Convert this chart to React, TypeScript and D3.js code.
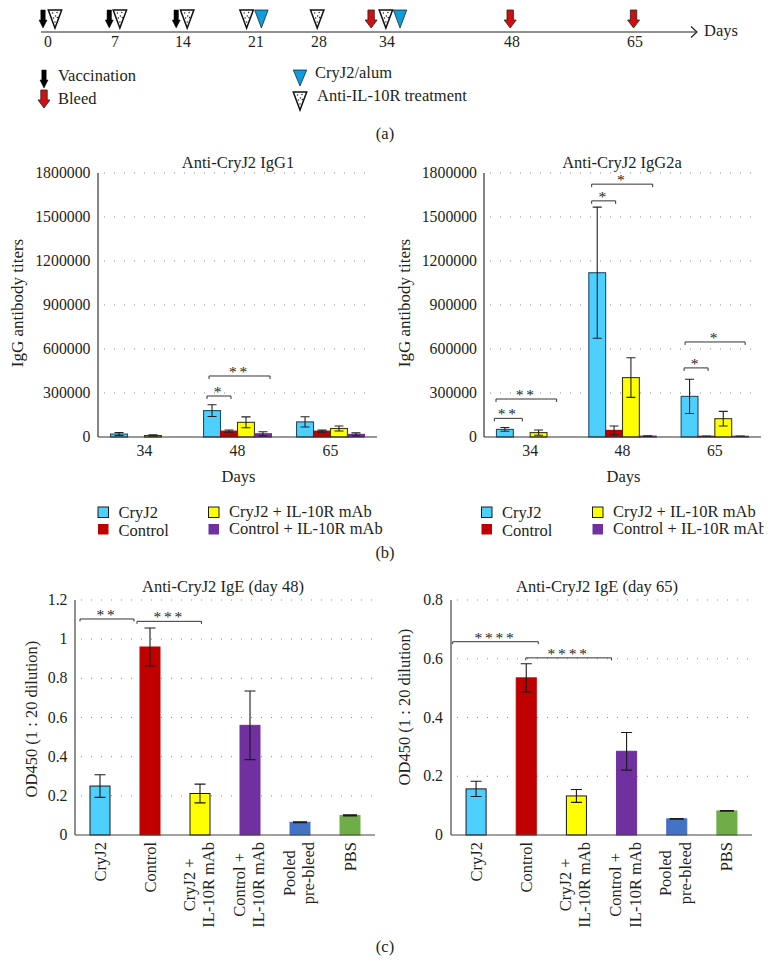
import React from "react";
import * as d3 from "d3";

const FONT = "'Liberation Serif', serif";
const TXT = "#231f20";

// ---------- schematic (a)
const timelineDays = [0, 7, 14, 21, 28, 34, 48, 65];
const vaccinationDays = [-0.52, 6.4, 13.3];
const bleedDays = [32.6, 47.8, 64.8];
const treatmentDays = [0.73, 7.5, 14.4, 20.1, 27.8, 33.9];
const alumDays = [21.6, 35.46];

// ---------- titers (b)
const titerGroups = ["34", "48", "65"];
const titerSeries = ["CryJ2", "Control", "CryJ2 + IL-10R mAb", "Control + IL-10R mAb"];
const seriesColors = ["#4dcfff", "#c00000", "#ffff00", "#7030a0"];
const seriesStrokes = ["#1d4f63", "#a80000", "#3b3b10", "#6a2c98"];
const titerTicks = [0, 300000, 600000, 900000, 1200000, 1500000, 1800000];

const igg1Values = [
  [20000, 0, 10000, 0],
  [180000, 40000, 100000, 22000],
  [103000, 40000, 58000, 18000],
];
const igg1Errors = [
  [10000, 0, 5000, 0],
  [40000, 8000, 37000, 14000],
  [35000, 7000, 17000, 10000],
];
const igg2aValues = [
  [52000, 0, 30000, 0],
  [1120000, 45000, 405000, 6000],
  [277000, 5000, 125000, 5000],
];
const igg2aErrors = [
  [13000, 0, 18000, 0],
  [447000, 30000, 135000, 2000],
  [117000, 2000, 50000, 2000],
];
// brackets: [from, to] in group units, height in titer units, stars
const igg1Brackets = [
  { from: 1.172, to: 1.43, at: 279500, stars: "*" },
  { from: 1.194, to: 1.85, at: 416000, stars: "**" },
];
const igg2aBrackets = [
  { from: 0.112, to: 0.415, at: 127000, stars: "**" },
  { from: 0.13, to: 0.787, at: 259000, stars: "**" },
  { from: 1.166, to: 1.426, at: 1610000, stars: "*" },
  { from: 1.166, to: 1.827, at: 1724000, stars: "*" },
  { from: 2.167, to: 2.427, at: 471000, stars: "*" },
  { from: 2.178, to: 2.828, at: 648000, stars: "*" },
];

// ---------- IgE (c)
const igeCategories = [["CryJ2"], ["Control"], ["CryJ2 +", "IL-10R mAb"], ["Control +", "IL-10R mAb"], ["Pooled", "pre-bleed"], ["PBS"]];
const igeColors = ["#4dcfff", "#c00000", "#ffff00", "#7030a0", "#4472c4", "#70ad47"];
const igeStrokes = ["#1a1a1a", "#c00000", "#1a1a1a", "#7030a0", "#4472c4", "#70ad47"];
const ige48Values = [0.25, 0.96, 0.212, 0.56, 0.065, 0.1];
const ige48Errors = [0.058, 0.097, 0.048, 0.175, 0.002, 0.003];
const ige48Ticks = [0, 0.2, 0.4, 0.6, 0.8, 1, 1.2];
const ige65Values = [0.157, 0.535, 0.133, 0.285, 0.055, 0.082];
const ige65Errors = [0.026, 0.048, 0.022, 0.064, 0.001, 0.001];
const ige65Ticks = [0, 0.2, 0.4, 0.6, 0.8];
const ige48Brackets = [
  { from: 0.1, to: 1.18, at: 1.103, stars: "**" },
  { from: 1.24, to: 2.53, at: 1.091, stars: "***" },
];
const ige65Brackets = [
  { from: 0.034, to: 1.74, at: 0.658, stars: "****" },
  { from: 1.49, to: 3.2, at: 0.603, stars: "****" },
];

const TEXT_SIZE = 16.5;
const TICK_SIZE = 15.8;

const T = (p: any) => <text fontFamily={FONT} fill={TXT} {...p} />;

function textWidth(s: string, size: number) {
  const ctx = document.createElement("canvas").getContext("2d")!;
  ctx.font = `${size}px 'Liberation Serif'`;
  return ctx.measureText(s).width;
}

function Arrow({ x, top, fill, wide }: { x: number; top: number; fill: string; wide?: boolean }) {
  const s = wide ? 3.2 : 2.2;
  const h = wide ? 6 : 4;
  const y1 = top + 10;
  const y2 = top + 18;
  const d = `M${x - s},${top}H${x + s}V${y1}H${x + h}L${x},${y2}L${x - h},${y1}H${x - s}Z`;
  return <path d={d} fill={fill} stroke={wide ? "#222" : "#000"} strokeWidth={wide ? 0.8 : 0.5} strokeLinejoin="miter" />;
}

function Tri({ x, top, fill, h = 18, hw = 6.7 }: { x: number; top: number; fill: string; h?: number; hw?: number }) {
  return <path d={`M${x - hw},${top}H${x + hw}L${x},${top + h}Z`} fill={fill} stroke="#111" strokeWidth={fill === "#fff" ? 1.5 : 0.7} />;
}

const dotOffsets = [[-2.5, 3], [2, 2.5], [0.5, 6], [-1.5, 8], [2.4, 7.5], [0, 12]];
function HatchTri({ x, top }: { x: number; top: number }) {
  return (
    <g>
      <Tri x={x} top={top} fill="#fff" />
      {dotOffsets.map(([dx, dy], i) => <circle key={i} cx={x + dx} cy={top + dy} r={0.75} fill="#222" />)}
    </g>
  );
}

function Schematic() {
  const x = d3.scaleLinear().domain(timelineDays).range([48, 115, 183, 256, 319, 387, 512, 635]);
  const lineY = 32;
  return (
    <g>
      <line x1={41} x2={696} y1={lineY} y2={lineY} stroke="#222" strokeWidth={1.2} />
      <path d={`M691,${lineY - 5.5}L697,${lineY}L691,${lineY + 5.5}`} fill="none" stroke="#222" strokeWidth={1.2} />
      <T x={704} y={36} fontSize={TEXT_SIZE}>Days</T>
      {timelineDays.map((d) => <T key={d} x={x(d)} y={47} fontSize={TICK_SIZE} textAnchor="middle">{d}</T>)}
      {vaccinationDays.map((d) => <Arrow key={d} x={x(d)} top={10} fill="#000" />)}
      {bleedDays.map((d) => <Arrow key={d} x={x(d)} top={10} fill="#d01010" wide />)}
      {treatmentDays.map((d) => <HatchTri key={d} x={x(d)} top={10} />)}
      {alumDays.map((d) => <Tri key={d} x={x(d)} top={10} fill="#0d9edb" />)}

      <Arrow x={44} top={70} fill="#000" />
      <T x={58} y={81} fontSize={TEXT_SIZE}>Vaccination</T>
      <Arrow x={44} top={90} fill="#d01010" wide />
      <T x={58} y={104} fontSize={TEXT_SIZE}>Bleed</T>
      <Tri x={300} top={70} fill="#0d9edb" h={16} />
      <T x={315} y={78} fontSize={TEXT_SIZE}>CryJ2/alum</T>
      <HatchTri x={300} top={92} />
      <T x={317} y={101} fontSize={TEXT_SIZE}>Anti-IL-10R treatment</T>
      <T x={385} y={139} fontSize={TEXT_SIZE} textAnchor="middle">(a)</T>
    </g>
  );
}

function Grid({ y, ticks, x0, x1 }: { y: any; ticks: number[]; x0: number; x1: number }) {
  return (
    <g>
      {ticks.filter((t) => t !== 0).map((t) => (
        <line key={t} x1={x0 + 6} x2={x1} y1={y(t)} y2={y(t)} stroke="#8a8a8a" strokeWidth={1} strokeDasharray="1 9" />
      ))}
    </g>
  );
}

function Brackets({ items, x, y, tip = 3 }: { items: any[]; x: any; y: any; tip?: number }) {
  return (
    <g>
      {items.map((b, i) => {
        const px = y(b.at);
        const mid = (x(b.from) + x(b.to)) / 2;
        return (
          <g key={i}>
            <path d={`M${x(b.from)},${px + tip}V${px}H${x(b.to)}V${px + tip}`} fill="none" stroke="#333" strokeWidth={1} />
            <text x={mid} y={px + 1} fontFamily={FONT} fontSize={15.5} fill="#1a1a1a" opacity={0.99} textAnchor="middle" letterSpacing={2.8}>{b.stars}</text>
          </g>
        );
      })}
    </g>
  );
}

function YTicks({ ticks, y, x, fmt }: { ticks: number[]; y: any; x: number; fmt?: (n: number) => string }) {
  return (
    <g>
      {ticks.map((t) => <T key={t} x={x} y={y(t) + 5} fontSize={TICK_SIZE} textAnchor="end">{fmt ? fmt(t) : t}</T>)}
    </g>
  );
}

function TiterPanel({ x0, x1, title, titleX, yLabelX, tickX, values, errors, brackets, legendX, legendX2, clip }: any) {
  const y = d3.scaleLinear().domain([0, 1800000]).range([437, 173]);
  const band = d3.scaleBand().domain(titerGroups).range([x0, x1]);
  const unit = d3.scaleLinear().domain([0, 3]).range([x0, x1]);
  const barW = band.bandwidth() * 0.1825;
  const inner = d3.scaleBand().domain(titerSeries).range([0, barW * 4]);
  const center = (g: string) => band(g)! + band.bandwidth() / 2;
  return (
    <g>
      <T x={titleX} y={168} fontSize={TEXT_SIZE} textAnchor="middle">{title}</T>
      <Grid y={y} ticks={titerTicks} x0={x0} x1={x1 - 4} />
      <YTicks ticks={titerTicks} y={y} x={tickX} />
      <T transform={`translate(${yLabelX},303) rotate(-90)`} fontSize={TEXT_SIZE + 0.5} textAnchor="middle">IgG antibody titers</T>
      {titerGroups.map((g, gi) => {
        const left = center(g) - barW * 2;
        return (
          <g key={g}>
            {titerSeries.map((s, si) => {
              const v = values[gi][si];
              if (v === 0) return null;
              const bx = left + inner(s)!;
              const cx = bx + barW / 2;
              const e = errors[gi][si];
              return (
                <g key={s}>
                  <rect x={bx} y={y(v)} width={barW} height={y(0) - y(v)} fill={seriesColors[si]} stroke={seriesStrokes[si]} strokeWidth={1.1} />
                  <path d={`M${cx},${y(v + e)}V${y(Math.max(v - e, 0))}M${cx - 4.5},${y(v + e)}H${cx + 4.5}M${cx - 4.5},${y(Math.max(v - e, 0))}H${cx + 4.5}`} fill="none" stroke="#222" strokeWidth={1.1} />
                </g>
              );
            })}
            <T x={center(g)} y={455.5} fontSize={TICK_SIZE} textAnchor="middle">{g}</T>
          </g>
        );
      })}
      <line x1={x0} x2={x0} y1={173} y2={437} stroke="#333" strokeWidth={1.2} />
      <line x1={x0} x2={x1} y1={437} y2={437} stroke="#333" strokeWidth={1.2} />
      <Brackets items={brackets} x={unit} y={y} />
      <T x={(x0 + x1) / 2 + 1} y={481.5} fontSize={TEXT_SIZE} textAnchor="middle">Days</T>
      <g clipPath={clip}>
        {titerSeries.map((s, i) => {
          const lx = i < 2 ? legendX : legendX2;
          const row = i % 2;
          const sy = 507 + row * 17;
          const rowText = i < 2 ? 518 + row * 18 : 517 + row * 17;
          return (
            <g key={s}>
              <rect x={lx} y={sy} width={10.5} height={10.5} fill={seriesColors[i]} stroke={i % 2 === 0 ? "#1a1a1a" : "none"} strokeWidth={1} />
              <T x={lx + 20.5} y={rowText} fontSize={TEXT_SIZE}>{s}</T>
            </g>
          );
        })}
      </g>
    </g>
  );
}

function IgePanel({ x0, x1, top, max, ticks, values, errors, brackets, title, titleX, yLabelX, yLabelY, tickX }: any) {
  const y = d3.scaleLinear().domain([0, max]).range([835, top]);
  const band = d3.scaleBand().domain(igeCategories.map((c) => c.join(" "))).range([x0, x1]);
  const unit = d3.scaleLinear().domain([0, 6]).range([x0, x1]);
  const bw = band.bandwidth() * 0.4;
  return (
    <g>
      <T x={titleX} y={592} fontSize={TEXT_SIZE} textAnchor="middle">{title}</T>
      <Grid y={y} ticks={ticks} x0={x0} x1={x1} />
      <YTicks ticks={ticks} y={y} x={tickX} />
      <T transform={`translate(${yLabelX},${yLabelY}) rotate(-90)`} fontSize={TEXT_SIZE} textAnchor="middle">OD450 (1 : 20 dilution)</T>
      {igeCategories.map((c, i) => {
        const cx = band(c.join(" "))! + band.bandwidth() / 2;
        const v = values[i];
        const e = errors[i];
        const hi = y(v + e);
        const lo = y(v - e);
        const cap = i >= 4 ? 7 : 5.5;
        const longest = Math.max(...c.map((l) => textWidth(l, TEXT_SIZE)));
        const cy = 842 + longest / 2;
        return (
          <g key={c.join(" ")}>
            <rect x={cx - bw / 2} y={y(v)} width={bw} height={835 - y(v)} fill={igeColors[i]} stroke={igeStrokes[i]} strokeWidth={1} />
            <path d={`M${cx},${hi}V${lo}M${cx - cap},${hi}H${cx + cap}M${cx - cap},${lo}H${cx + cap}`} fill="none" stroke="#1a1a1a" strokeWidth={1.1} />
            {c.length === 1 ? (
              <T transform={`translate(${cx + 5.5},842) rotate(-90)`} fontSize={TEXT_SIZE} textAnchor="end">{c[0]}</T>
            ) : (
              c.map((l, li) => (
                <T key={l} transform={`translate(${cx + (li === 0 ? -5.5 : 14)},${cy}) rotate(-90)`} fontSize={TEXT_SIZE} textAnchor="middle">{l}</T>
              ))
            )}
          </g>
        );
      })}
      <line x1={x0} x2={x0} y1={top} y2={835} stroke="#444" strokeWidth={1.2} />
      <line x1={x0} x2={x1} y1={835} y2={835} stroke="#444" strokeWidth={1.2} />
      <Brackets items={brackets} x={unit} y={y} tip={2.5} />
    </g>
  );
}

export default function App() {
  return (
    <svg width={774} height={980} style={{ position: "absolute", left: 0, top: 0, background: "#fff" }}>
      <defs>
        <clipPath id="rclip"><rect x={470} y={495} width={293.5} height={50} /></clipPath>
      </defs>
      <Schematic />
      <TiterPanel x0={98} x1={377} title="Anti-CryJ2 IgG1" titleX={238} yLabelX={23} tickX={90.5} values={igg1Values} errors={igg1Errors} brackets={igg1Brackets} legendX={98} legendX2={208.5} />
      <TiterPanel x0={484} x1={761} title="Anti-CryJ2 IgG2a" titleX={622} yLabelX={410} tickX={477} values={igg2aValues} errors={igg2aErrors} brackets={igg2aBrackets} legendX={481.5} legendX2={592.5} clip="url(#rclip)" />
      <T x={385} y={558} fontSize={TEXT_SIZE} textAnchor="middle">(b)</T>
      <IgePanel x0={75} x1={375} top={600} max={1.2} ticks={ige48Ticks} values={ige48Values} errors={ige48Errors} brackets={ige48Brackets} title="Anti-CryJ2 IgE (day 48)" titleX={223} yLabelX={36.5} yLabelY={719} tickX={67.5} />
      <IgePanel x0={451} x1={752} top={600} max={0.8} ticks={ige65Ticks} values={ige65Values} errors={ige65Errors} brackets={ige65Brackets} title="Anti-CryJ2 IgE (day 65)" titleX={597} yLabelX={410} yLabelY={707} tickX={443} />
      <T x={385} y={952} fontSize={TEXT_SIZE} textAnchor="middle">(c)</T>
    </svg>
  );
}
